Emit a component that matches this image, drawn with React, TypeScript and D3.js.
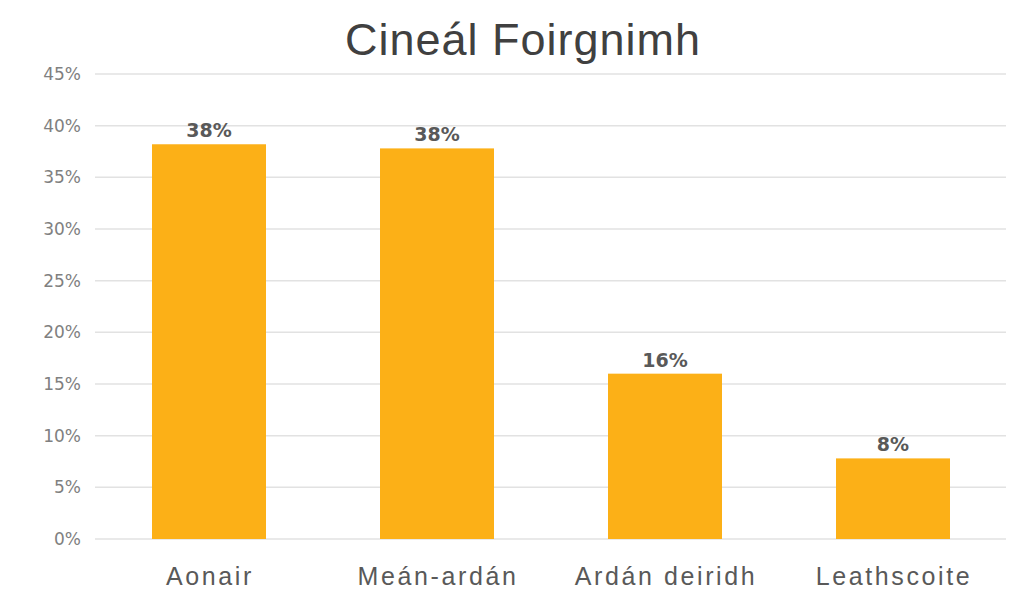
import React, { useEffect, useRef } from "react";
import * as d3 from "d3";

const categories = ["Aonair", "Meán-ardán", "Ardán deiridh", "Leathscoite"];
const values = [38.2, 37.8, 16.0, 7.8];
const valueLabels = ["38%", "38%", "16%", "8%"];
const yTicks = [0, 5, 10, 15, 20, 25, 30, 35, 40, 45];
const title = "Cineál Foirgnimh";

const width = 1012;
const height = 600;
const barColor = "#FCB017";
const textColor = "#595959";

const App = () => {
  const ref = useRef<SVGSVGElement>(null);

  useEffect(() => {
    const svg = d3.select(ref.current);
    svg.selectAll("*").remove();

    const x = d3
      .scaleBand()
      .domain(categories)
      .range([95, 1007])
      .paddingInner(0.5)
      .paddingOuter(0.25);
    const y = d3.scaleLinear().domain([0, 45]).range([539, 74]);

    svg
      .append("text")
      .attr("x", 523)
      .attr("y", 55)
      .attr("text-anchor", "middle")
      .attr("font-family", "Liberation Sans, Arial, sans-serif")
      .attr("font-size", 45)
      .attr("letter-spacing", 1)
      .attr("fill", "#404040")
      .text(title);

    const grid = svg.append("g");
    grid
      .selectAll("line")
      .data(yTicks)
      .join("line")
      .attr("x1", 95)
      .attr("x2", 1006)
      .attr("y1", d => y(d))
      .attr("y2", d => y(d))
      .attr("stroke", "#e2e2e2")
      .attr("stroke-width", 1.5);

    grid
      .selectAll("text")
      .data(yTicks)
      .join("text")
      .attr("x", 81)
      .attr("y", d => y(d))
      .attr("dy", "0.35em")
      .attr("text-anchor", "end")
      .attr("font-family", "DejaVu Sans, sans-serif")
      .attr("font-size", 17)
      .attr("fill", "#808080")
      .text(d => `${d}%`);

    const bars = svg.append("g");
    bars
      .selectAll("rect")
      .data(values)
      .join("rect")
      .attr("x", (d, i) => x(categories[i])!)
      .attr("width", x.bandwidth())
      .attr("y", d => y(d))
      .attr("height", d => y(0) - y(d))
      .attr("fill", barColor);

    bars
      .selectAll("text")
      .data(values)
      .join("text")
      .attr("x", (d, i) => x(categories[i])! + x.bandwidth() / 2)
      .attr("y", d => y(d) - 7)
      .attr("text-anchor", "middle")
      .attr("font-family", "DejaVu Sans, sans-serif")
      .attr("font-size", 19)
      .attr("font-weight", 600)
      .attr("fill", textColor)
      .text((d, i) => valueLabels[i]);

    svg
      .append("g")
      .selectAll("text")
      .data(categories)
      .join("text")
      .attr("x", d => x(d)! + x.bandwidth() / 2 + 1)
      .attr("y", 585)
      .attr("text-anchor", "middle")
      .attr("font-family", "Liberation Sans, Arial, sans-serif")
      .attr("font-size", 25)
      .attr("letter-spacing", 2.6)
      .attr("fill", textColor)
      .text(d => d);
  }, []);

  return (
    <svg
      ref={ref}
      width={width}
      height={height}
      style={{ position: "absolute", left: 0, top: 0, background: "#fff" }}
    ></svg>
  );
};

export default App;
